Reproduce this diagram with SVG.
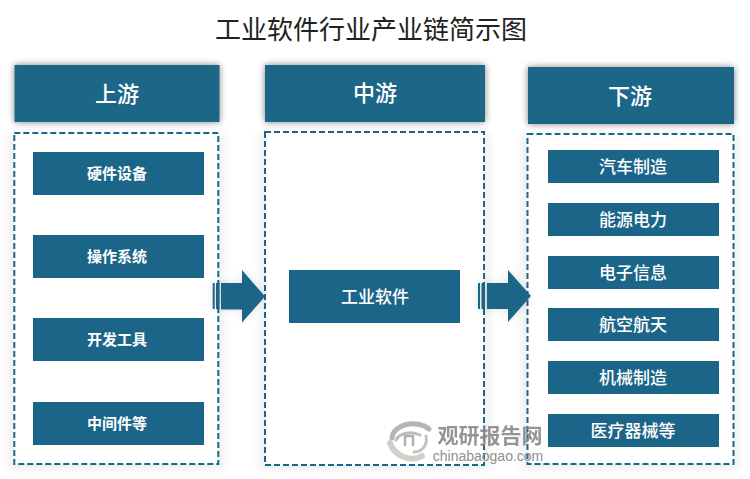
<svg xmlns="http://www.w3.org/2000/svg" width="750" height="479" viewBox="0 0 750 479">
<defs>
<filter id="sh" x="-15%" y="-40%" width="130%" height="180%"><feGaussianBlur in="SourceAlpha" stdDeviation="3.5"/><feComponentTransfer><feFuncA type="linear" slope="0.5"/></feComponentTransfer><feMerge><feMergeNode/><feMergeNode in="SourceGraphic"/></feMerge></filter>
<filter id="soft" x="-15%" y="-5%" width="130%" height="110%"><feGaussianBlur stdDeviation="5"/></filter>
<filter id="as" x="-30%" y="-30%" width="160%" height="160%"><feGaussianBlur stdDeviation="4"/></filter>
</defs>
<style>
text{font-family:"Noto Sans CJK SC","Liberation Serif",serif;text-anchor:middle}
.h{fill:#1b6688}
.t{fill:#fff;font-size:15px;font-weight:700}
.t2{fill:#fff;font-size:17px;font-weight:500}
.ht{fill:#fff;font-size:22px;font-weight:500}
.d{fill:#fff;stroke:#1b6688;stroke-width:2;stroke-dasharray:6 3}
.a{fill:#1b6688}
</style>
<rect width="750" height="479" fill="#fff"/>
<text x="371" y="39" font-size="26" fill="#222">工业软件行业产业链简示图</text>

<g id="upstream">
<rect x="8" y="133" width="216" height="337" fill="#000" opacity="0.06" filter="url(#soft)"/>
<rect class="d" x="14.300" y="133" width="204" height="331"/>
<rect class="h" x="14.500" y="65" width="205" height="57" filter="url(#sh)"/>
<text class="ht" x="117" y="102">上游</text>
</g>
<g id="midstream">
<rect x="259" y="132" width="231" height="338" fill="#000" opacity="0.06" filter="url(#soft)"/>
<rect class="d" x="265" y="132" width="219" height="333"/>
<rect class="h" x="265" y="65" width="220" height="57" filter="url(#sh)"/>
<text class="ht" x="375" y="101">中游</text>
</g>
<g id="downstream">
<rect x="521" y="134" width="218" height="336" fill="#000" opacity="0.06" filter="url(#soft)"/>
<rect class="d" x="527.500" y="134" width="206" height="330"/>
<rect class="h" x="528" y="67" width="206" height="57" filter="url(#sh)"/>
<text class="ht" x="630" y="104">下游</text>
</g>

<g id="n-hardware"><rect class="h" x="33" y="152" width="171" height="43"/><text class="t" x="117" y="179">硬件设备</text></g>
<g id="n-os"><rect class="h" x="33" y="235" width="171" height="43"/><text class="t" x="117" y="262">操作系统</text></g>
<g id="n-devtools"><rect class="h" x="33" y="318" width="171" height="43"/><text class="t" x="117" y="345">开发工具</text></g>
<g id="n-middleware"><rect class="h" x="33" y="402" width="171" height="43"/><text class="t" x="117" y="429">中间件等</text></g>
<g id="n-software"><rect class="h" x="289" y="270" width="171" height="53"/><text class="t2" x="375" y="303">工业软件</text></g>
<g id="n-auto"><rect class="h" x="548" y="150" width="171" height="33"/><text class="t2" x="633" y="173">汽车制造</text></g>
<g id="n-energy"><rect class="h" x="548" y="203" width="171" height="33"/><text class="t2" x="633" y="226">能源电力</text></g>
<g id="n-info"><rect class="h" x="548" y="256" width="171" height="33"/><text class="t2" x="633" y="279">电子信息</text></g>
<g id="n-aero"><rect class="h" x="548" y="308" width="171" height="33"/><text class="t2" x="633" y="331">航空航天</text></g>
<g id="n-machine"><rect class="h" x="548" y="361" width="171" height="33"/><text class="t2" x="633" y="384">机械制造</text></g>
<g id="n-medical"><rect class="h" x="548" y="414" width="171" height="33"/><text class="t2" x="633" y="437">医疗器械等</text></g>

<g id="connectors">
<g id="arrow-1">
<path d="M213 283h29v-13l23 26-23 26v-13h-29z" fill="#000" opacity="0.12" filter="url(#as)"/>
<rect class="a" x="212.700" y="283" width="2" height="26"/>
<rect class="a" x="216" y="283" width="3.500" height="26"/>
<path class="a" d="M221 283h21v-13l23 26.500-23 26v-13h-21z"/>
</g>
<g id="arrow-2">
<path d="M478 283h30v-13l23 26-23 26v-13h-30z" fill="#000" opacity="0.12" filter="url(#as)"/>
<rect class="a" x="478" y="283" width="2" height="26"/>
<rect class="a" x="481.500" y="283" width="3.500" height="26"/>
<path class="a" d="M487 283h21v-13l23 26-23 26v-13h-21z"/>
</g>
</g>

<g id="watermark">
<g fill="none" stroke-linecap="round">
<path d="M392 438a21 15 0 0 1 37-9" stroke="#b5b5b5" stroke-width="5"/>
<path d="M396 440a15 10 0 0 1 24-5" stroke="#bdbdbd" stroke-width="3"/>
<path d="M390 443c4 12 20 20 32 13" stroke="#d0d0c8" stroke-width="6"/>
<path d="M426 436c2 9-4 16-12 16" stroke="#c4c4c0" stroke-width="3"/>
<path d="M405 445v-9h8v9" stroke="#b0b0b0" stroke-width="2.500"/>
</g>
<text x="490" y="443" font-size="21" font-weight="700" fill="#8a8a8a" opacity="0.9" style="font-family:'Noto Sans CJK SC',sans-serif">观研报告网</text>
<text x="488" y="461" font-size="14" fill="#8f8f8f" style="font-family:'Liberation Sans',sans-serif">chinabaogao.com</text>
</g>
</svg>
